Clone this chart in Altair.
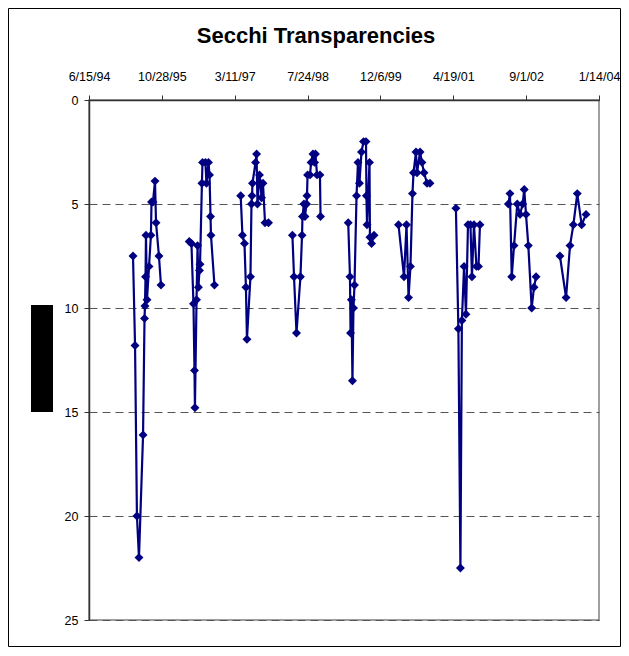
import altair as alt
import pandas as pd

# Sample dates and Secchi transparency readings (feet)
dates = [
    # 1995
    "1995-04-13", "1995-04-27", "1995-05-10", "1995-05-24", "1995-06-21", "1995-07-01",
    "1995-07-04", "1995-07-08", "1995-07-11", "1995-07-18", "1995-08-01", "1995-08-14",
    "1995-08-18", "1995-08-28", "1995-09-11", "1995-09-18", "1995-10-08", "1995-10-22",
    # 1996
    "1996-05-03", "1996-05-18", "1996-06-01", "1996-06-08", "1996-06-11", "1996-06-22",
    "1996-06-29", "1996-07-05", "1996-07-12", "1996-07-16", "1996-07-29", "1996-08-02",
    "1996-08-22", "1996-08-29", "1996-09-12", "1996-09-19", "1996-09-26", "1996-09-29",
    "1996-10-23",
    # 1997
    "1997-04-21", "1997-05-03", "1997-05-17", "1997-05-27", "1997-06-03", "1997-06-27",
    "1997-07-04", "1997-07-08", "1997-07-11", "1997-08-01", "1997-08-08", "1997-08-14",
    "1997-08-28", "1997-09-04", "1997-09-11", "1997-09-21", "1997-10-05", "1997-10-29",
    # 1998
    "1998-04-11", "1998-04-22", "1998-05-09", "1998-06-05", "1998-06-16", "1998-06-19",
    "1998-06-29", "1998-07-06", "1998-07-17", "1998-07-20", "1998-07-24", "1998-08-10",
    "1998-08-17", "1998-08-30", "1998-09-10", "1998-09-16", "1998-09-27", "1998-10-17",
    "1998-10-21",
    # 1999
    "1999-04-29", "1999-05-11", "1999-05-15", "1999-05-21", "1999-05-28", "1999-06-04",
    "1999-06-11", "1999-06-25", "1999-07-05", "1999-07-15", "1999-07-29", "1999-08-12",
    "1999-08-29", "1999-09-01", "1999-09-05", "1999-09-22", "1999-09-25", "1999-10-06",
    "1999-10-23",
    # 2000
    "2000-04-08", "2000-05-16", "2000-06-02", "2000-06-16", "2000-06-29", "2000-07-13",
    "2000-07-20", "2000-08-06", "2000-08-13", "2000-09-03", "2000-09-16", "2000-09-30",
    "2000-10-21", "2000-11-10",
    # 2001
    "2001-05-07", "2001-05-24", "2001-06-07", "2001-06-17", "2001-07-02", "2001-07-15",
    "2001-07-29", "2001-08-15", "2001-08-25", "2001-09-08", "2001-09-25", "2001-10-09",
    "2001-10-19",
    # 2002
    "2002-05-02", "2002-05-13", "2002-05-25", "2002-06-10", "2002-07-02", "2002-07-21",
    "2002-08-08", "2002-08-19", "2002-08-31", "2002-09-16", "2002-10-09", "2002-10-25",
    "2002-11-08",
    # 2003
    "2003-04-21", "2003-06-02", "2003-06-29", "2003-07-22", "2003-08-18", "2003-09-17",
    "2003-10-17",
]

depths = [
    # 1995
    7.5, 11.8, 20.0, 22.0, 16.1, 10.5, 9.9, 8.5, 6.5, 9.6, 8.0, 6.5, 4.9, 4.9, 3.9, 5.9, 7.5, 8.9,
    # 1996
    6.8, 6.9, 9.8, 13.0, 14.8, 9.6, 7.0, 9.0, 8.2, 7.9, 4.0, 3.0, 3.0, 4.0, 3.0, 3.6, 5.6, 6.5, 8.9,
    # 1997
    4.6, 6.5, 6.9, 9.0, 11.5, 8.5, 5.0, 4.6, 4.0, 3.0, 2.6, 5.0, 3.6, 4.0, 4.7, 4.0, 5.9, 5.9,
    # 1998
    6.5, 8.5, 11.2, 8.5, 6.5, 5.6, 5.0, 5.6, 5.0, 4.6, 3.6, 3.6, 3.0, 2.6, 3.0, 2.6, 3.6, 3.6, 5.6,
    # 1999
    5.9, 8.5, 11.2, 9.6, 13.5, 10.0, 8.9, 4.6, 3.0, 4.0, 2.5, 2.0, 2.0, 4.6, 6.0, 3.0, 6.6, 6.9, 6.5,
    # 2000
    6.0, 8.5, 6.0, 9.5, 8.0, 4.5, 3.5, 2.5, 3.5, 2.5, 3.0, 3.5, 4.0, 4.0,
    # 2001
    5.2, 11.0, 22.5, 10.6, 8.0, 10.3, 6.0, 6.0, 8.5, 6.0, 8.0, 8.0, 6.0,
    # 2002
    5.0, 4.5, 8.5, 7.0, 5.0, 5.5, 5.0, 4.3, 5.5, 7.0, 10.0, 9.0, 8.5,
    # 2003
    7.5, 9.5, 7.0, 6.0, 4.5, 6.0, 5.5,
]

x_tick_dates = [(1994, 6, 15), (1995, 10, 28), (1997, 3, 11), (1998, 7, 24),
                (1999, 12, 6), (2001, 4, 19), (2002, 9, 1), (2004, 1, 14)]
y_ticks = [0, 5, 10, 15, 20, 25]
title_text = "Secchi Transparencies"

FONT = "Liberation Sans"
NAVY = "#000080"

df = pd.DataFrame({"date": pd.to_datetime(dates), "depth": depths})
df["season"] = df["date"].dt.year

tick_dt = [alt.DateTime(year=y, month=m, date=d) for (y, m, d) in x_tick_dates]

x_enc = alt.X(
    "date:T",
    scale=alt.Scale(domain=[tick_dt[0], tick_dt[-1]]),
    axis=alt.Axis(
        orient="top", values=tick_dt, format="%-m/%-d/%y", grid=False,
        tickSize=5, tickColor="#333333", domainColor="#333333", domainWidth=1.5,
        labelFont=FONT, labelFontSize=12.5, labelColor="black", labelPadding=12,
        labelAngle=0, labelFlush=False, labelOverlap=False, title=None,
    ),
)
y_enc = alt.Y(
    "depth:Q",
    scale=alt.Scale(domain=[0, 25], reverse=True, nice=False, zero=True),
    axis=alt.Axis(
        values=y_ticks, grid=True, gridDash=[8, 5], gridColor="#555555", gridWidth=1,
        tickSize=5, tickColor="#333333", domainColor="#333333", domainWidth=1.5,
        labelFont=FONT, labelFontSize=12.5, labelColor="black", labelPadding=6,
        title=None,
    ),
)

lines = alt.Chart(df).mark_line(
    color=NAVY, strokeWidth=2.2,
    point=alt.OverlayMarkDef(shape="diamond", size=80, filled=True, color=NAVY, opacity=1),
).encode(x=x_enc, y=y_enc, detail="season:N")

one = pd.DataFrame({"t": [title_text]})

frame = alt.Chart(one).mark_rect(fill=None, stroke="black", strokeWidth=1).encode(
    x=alt.value(-80.5), x2=alt.value(531.5), y=alt.value(-91.5), y2=alt.value(546.5)
)
black_box = alt.Chart(one).mark_rect(fill="black", stroke=None).encode(
    x=alt.value(-58), x2=alt.value(-36), y=alt.value(205), y2=alt.value(312)
)
title = alt.Chart(one).mark_text(
    font=FONT, fontSize=22, fontWeight="bold", color="black", align="center", baseline="middle"
).encode(text="t:N", x=alt.value(227), y=alt.value(-64))

chart = alt.layer(frame, black_box, title, lines).properties(
    width=510, height=520,
    autosize=alt.AutoSizeParams(type="none"),
    padding={"left": 81, "top": 92, "right": 22, "bottom": 27},
    background="white",
).configure_view(stroke="#808080", strokeWidth=1.5)

chart.save("out.html", embed_options={"renderer": "svg", "actions": False})
